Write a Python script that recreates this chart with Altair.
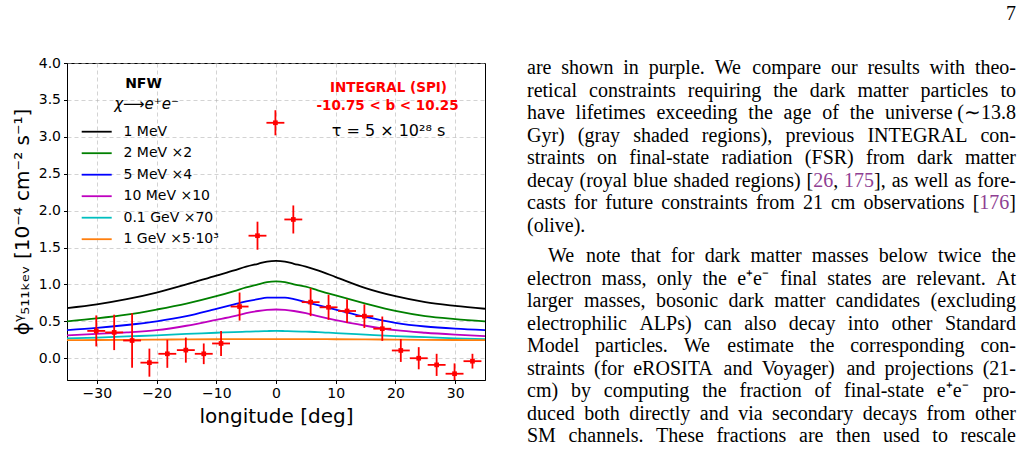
import re
import altair as alt
import pandas as pd

# ------------------------------------------------------------------ data
model_lon = [-35, -30, -25, -20, -15, -10, -7, -5, -3, -1.5, 0, 1.5, 3, 5, 7, 10, 15, 20, 25, 30, 35]
model_1mev = [0.68, 0.73, 0.80, 0.89, 1.00, 1.12, 1.19, 1.24, 1.28, 1.31, 1.32, 1.31, 1.28, 1.24, 1.19, 1.10, 0.95, 0.84, 0.76, 0.71, 0.67]
model_2mev = [0.50, 0.54, 0.59, 0.66, 0.74, 0.84, 0.91, 0.96, 1.00, 1.03, 1.04, 1.03, 1.00, 0.97, 0.92, 0.85, 0.74, 0.64, 0.57, 0.53, 0.50]
model_5mev = [0.38, 0.41, 0.45, 0.50, 0.57, 0.67, 0.73, 0.77, 0.80, 0.82, 0.82, 0.82, 0.80, 0.76, 0.72, 0.66, 0.56, 0.48, 0.43, 0.40, 0.38]
model_10mev = [0.31, 0.33, 0.35, 0.38, 0.44, 0.52, 0.57, 0.61, 0.64, 0.655, 0.66, 0.655, 0.64, 0.61, 0.57, 0.515, 0.44, 0.38, 0.345, 0.32, 0.30]
model_01gev = [0.27, 0.28, 0.295, 0.31, 0.33, 0.345, 0.355, 0.36, 0.365, 0.368, 0.37, 0.368, 0.365, 0.36, 0.355, 0.34, 0.32, 0.30, 0.285, 0.27, 0.26]
model_1gev = [0.245, 0.247, 0.25, 0.252, 0.255, 0.257, 0.258, 0.259, 0.26, 0.26, 0.26, 0.26, 0.26, 0.259, 0.258, 0.257, 0.255, 0.252, 0.25, 0.247, 0.245]

series_labels = ["1 MeV", "2 MeV ×2", "5 MeV ×4", "10 MeV ×10", "0.1 GeV ×70", "1 GeV ×5·10³"]
series_colors = ["#000000", "#008000", "#0000ff", "#bf00bf", "#00bfbf", "#ff7f0e"]
series_values = [model_1mev, model_2mev, model_5mev, model_10mev, model_01gev, model_1gev]

obs_lon = [-30.1, -27.1, -24.1, -21.2, -18.2, -15.1, -12.1, -9.2, -6.1, -3.1, -0.1,
           2.9, 5.8, 8.8, 11.9, 14.8, 17.8, 20.9, 23.9, 26.9, 29.9, 32.9]
obs_flux = [0.37, 0.35, 0.24, -0.06, 0.06, 0.11, 0.06, 0.20, 0.70, 1.66, 3.19,
            1.88, 0.76, 0.69, 0.64, 0.57, 0.40, 0.105, 0.0, -0.09, -0.21, -0.04]
obs_err = [0.21, 0.24, 0.37, 0.19, 0.19, 0.17, 0.14, 0.17, 0.19, 0.19, 0.17,
           0.19, 0.19, 0.17, 0.16, 0.16, 0.165, 0.155, 0.15, 0.15, 0.14, 0.10]
obs_lon_halfwidth = 1.5

x_ticks = [-30, -20, -10, 0, 10, 20, 30]
y_ticks = [0.0, 0.5, 1.0, 1.5, 2.0, 2.5, 3.0, 3.5, 4.0]

x_title = "longitude [deg]"
y_title = "ϕᵞ₅₁₁ₖₑᵥ [10⁻⁴ cm⁻² s⁻¹]"
profile_text = "NFW"
channel_text = "χ⟶e⁺e⁻"
instrument_text = "INTEGRAL (SPI)"
latitude_text = "-10.75  <  b  <  10.25"
lifetime_text = "τ = 5 × 10²⁸ s"

page_number = "7"
para1_lines = [
    "are shown in purple. We compare our results with theo-",
    "retical constraints requiring the dark matter particles to",
    "have lifetimes exceeding the age of the universe (∼13.8",
    "Gyr) (gray shaded regions), previous INTEGRAL con-",
    "straints on final-state radiation (FSR) from dark matter",
    "decay (royal blue shaded regions) [{26}, {175}], as well as fore-",
    "casts for future constraints from 21 cm observations [{176}]",
    "(olive).",
]
para2_lines = [
    "We note that for dark matter masses below twice the",
    "electron mass, only the e⁺e⁻ final states are relevant. At",
    "larger masses, bosonic dark matter candidates (excluding",
    "electrophilic ALPs) can also decay into other Standard",
    "Model particles. We estimate the corresponding con-",
    "straints (for eROSITA and Voyager) and projections (21-",
    "cm) by computing the fraction of final-state e⁺e⁻ pro-",
    "duced both directly and via secondary decays from other",
    "SM channels. These fractions are then used to rescale",
]

# ------------------------------------------------------------------ layout
W, H = 418, 317
PAD_L, PAD_T = 67, 63
X_DOM = [-35, 35]
Y_DOM = [-0.295, 4.0]
xs = alt.Scale(domain=X_DOM, nice=False, zero=False)
ys = alt.Scale(domain=Y_DOM, nice=False, zero=False)
x_axis = alt.Axis(values=x_ticks, format="d", grid=True)
y_axis = alt.Axis(values=y_ticks, format=".1f", grid=True)
SANS = "DejaVu Sans"
SERIF = "Liberation Serif"
RED = "#ff0000"
PURPLE = "#8f3f93"
one_row = pd.DataFrame({"k": [0]})


def X(field):
    return alt.X(field, scale=xs, axis=x_axis, title=x_title)


def Y(field):
    return alt.Y(field, scale=ys, axis=y_axis, title=y_title)


def px2x(px):
    return X_DOM[0] + (px - PAD_L) / W * (X_DOM[1] - X_DOM[0])


def py2y(py):
    return Y_DOM[1] - (py - PAD_T) / H * (Y_DOM[1] - Y_DOM[0])


# ------------------------------------------------------------------ curves
rows = []
for lab, vals in zip(series_labels, series_values):
    for lo, v in zip(model_lon, vals):
        rows.append({"lon": lo, "flux": v, "series": lab})
curves_df = pd.DataFrame(rows)

curves = alt.Chart(curves_df).mark_line(strokeWidth=1.8, interpolate="monotone", clip=True).encode(
    x=X("lon:Q"), y=Y("flux:Q"),
    color=alt.Color("series:N", scale=alt.Scale(domain=series_labels, range=series_colors), legend=None),
)

obs_df = pd.DataFrame({"lon": obs_lon, "flux": obs_flux, "err": obs_err})
obs_base = alt.Chart(obs_df).transform_calculate(
    lo="datum.flux - datum.err", hi="datum.flux + datum.err",
    xlo=f"datum.lon - {obs_lon_halfwidth}", xhi=f"datum.lon + {obs_lon_halfwidth}",
)
vbars = obs_base.mark_rule(color=RED, strokeWidth=1.8, clip=True).encode(
    x=X("lon:Q"), y=Y("lo:Q"), y2="hi:Q")
hbars = obs_base.mark_rule(color=RED, strokeWidth=1.8, clip=True).encode(
    x=X("xlo:Q"), x2="xhi:Q", y=Y("flux:Q"))
pts = obs_base.mark_point(shape="square", filled=True, size=22, color=RED, opacity=1, clip=True).encode(
    x=X("lon:Q"), y=Y("flux:Q"))

layers = [curves, vbars, hbars, pts]

# ------------------------------------------------------------------ legend (drawn)
LEG_X0, LEG_X1, LEG_TX, LEG_Y0, LEG_DY = 14.7, 44.7, 56.5, 68.7, 21.5
for i, (lab, col) in enumerate(zip(series_labels, series_colors)):
    yy = LEG_Y0 + i * LEG_DY
    layers.append(alt.Chart(one_row).mark_rule(color=col, strokeWidth=1.8).encode(
        x=alt.value(LEG_X0), x2=alt.value(LEG_X1), y=alt.value(yy)))
    layers.append(alt.Chart(one_row).mark_text(align="left", baseline="middle", font=SANS,
                                              fontSize=14, color="black").encode(
        x=alt.value(LEG_TX), y=alt.value(yy), text=alt.value(lab)))


def note(txt, x, y, size, color="black", weight="normal", style="normal", font=SANS, align="center"):
    return alt.Chart(one_row).mark_text(align=align, baseline="middle", font=font, fontSize=size,
                                       color=color, fontWeight=weight, fontStyle=style).encode(
        x=alt.value(x), y=alt.value(y), text=alt.value(txt))


layers += [
    note(profile_text, 76.5, 20.5, 14, weight="bold"),
    note(channel_text, 79.5, 40.5, 15, style="italic"),
    note(instrument_text, 321.5, 24.5, 13.5, color=RED, weight="bold"),
    note(latitude_text, 320.5, 43, 13.5, color=RED, weight="bold"),
    note(lifetime_text, 321.5, 67.5, 16),
]

# ------------------------------------------------------------------ page text (justified)
TW = {' ': 250, '!': 333, '(': 333, ')': 333, ',': 250, '-': 333, '.': 250, ':': 278, ';': 278,
      '[': 333, ']': 333, '∼': 541, '⁺': 380, '⁻': 380,
      'A': 722, 'B': 667, 'C': 667, 'D': 722, 'E': 611, 'F': 556, 'G': 722, 'H': 722, 'I': 333,
      'J': 389, 'K': 722, 'L': 611, 'M': 889, 'N': 722, 'O': 722, 'P': 556, 'Q': 722, 'R': 667,
      'S': 556, 'T': 611, 'U': 722, 'V': 722, 'W': 944, 'X': 722, 'Y': 722, 'Z': 611,
      'a': 444, 'b': 500, 'c': 444, 'd': 500, 'e': 444, 'f': 333, 'g': 500, 'h': 500, 'i': 278,
      'j': 278, 'k': 500, 'l': 278, 'm': 778, 'n': 500, 'o': 500, 'p': 500, 'q': 500, 'r': 333,
      's': 389, 't': 278, 'u': 500, 'v': 500, 'w': 722, 'x': 500, 'y': 500, 'z': 444}
FS = 20.0


def tw(s):
    return sum(TW.get(c, 500) for c in s) * FS / 1000.0


def segs(word):
    out = []
    for part in re.split(r"(\{[^}]*\})", word):
        if not part:
            continue
        if part.startswith("{"):
            out.append((part[1:-1], "p"))
        else:
            out.append((part, "k"))
    return out


LEFT, RIGHT = 527.0, 1016.0
words = []


def set_line(line, baseline, indent=0.0, justify=True):
    ws = line.split(" ")
    widths = [tw("".join(s for s, _ in segs(w))) for w in ws]
    x0 = LEFT + indent
    if justify and len(ws) > 1:
        gap = (RIGHT - x0 - sum(widths)) / (len(ws) - 1)
    else:
        gap = tw(" ")
    x = x0
    for j, (w, wd) in enumerate(zip(ws, widths)):
        last = justify and len(ws) > 1 and j == len(ws) - 1
        sg = segs(w)
        if last:
            xr = RIGHT
            for s, c in reversed(sg):
                words.append({"x": px2x(xr), "y": py2y(baseline), "t": s, "c": c, "a": "right"})
                xr -= tw(s)
        else:
            xl = x
            for s, c in sg:
                words.append({"x": px2x(xl), "y": py2y(baseline), "t": s, "c": c, "a": "left"})
                xl += tw(s)
        x += wd + gap


B1, DB = 74.0, 22.55
for i, ln in enumerate(para1_lines):
    set_line(ln, B1 + i * DB, justify=(i < len(para1_lines) - 1))
B2 = 262.0
for i, ln in enumerate(para2_lines):
    set_line(ln, B2 + i * DB, indent=(21.0 if i == 0 else 0.0), justify=True)

words_df = pd.DataFrame(words)
for al in ["left", "right"]:
    for c, colr in [("k", "black"), ("p", PURPLE)]:
        sub = words_df[(words_df.a == al) & (words_df.c == c)]
        if len(sub) == 0:
            continue
        layers.append(alt.Chart(sub).mark_text(align=al, baseline="alphabetic", font=SERIF,
                                               fontSize=FS, color=colr).encode(
            x=X("x:Q"), y=Y("y:Q"), text="t:N"))

layers.append(note(page_number, RIGHT - PAD_L, 14 - PAD_T, FS, font=SERIF, align="right"))

chart = alt.layer(*layers).properties(
    width=W, height=H,
    padding={"left": PAD_L, "top": PAD_T, "right": 1023 - PAD_L - W, "bottom": 453 - PAD_T - H},
    autosize=alt.AutoSizeParams(type="none"),
    background="white",
).configure_view(stroke="black", strokeWidth=1).configure_axis(
    labelFont=SANS, labelFontSize=14, labelColor="black", labelPadding=3,
    tickColor="black", tickSize=3.5, tickWidth=1, domainColor="black", domainWidth=1,
    gridColor="#b0b0b0", gridDash=[4, 3], gridWidth=0.8, gridOpacity=0.7,
    titleFont=SANS, titleFontSize=20, titleFontWeight="normal", titleColor="black",
).configure_axisX(titlePadding=6).configure_axisY(titlePadding=6)

chart.save("out.html", embed_options={"renderer": "svg", "actions": False})
